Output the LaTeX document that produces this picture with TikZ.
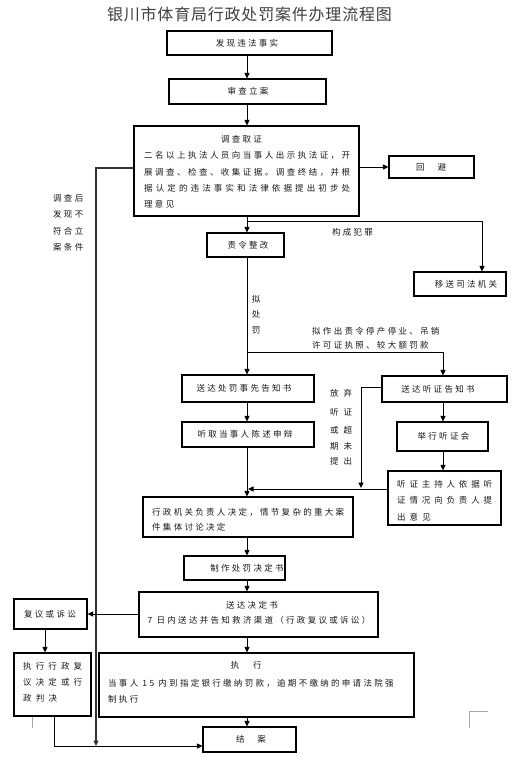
\documentclass[tikz,border=0pt]{standalone}
\usepackage{fontspec}
\setmainfont{Noto Sans CJK SC}
\newfontfamily\cjk[LetterSpace=27]{Noto Sans CJK SC}
\newfontfamily\cjkt[LetterSpace=5]{Noto Sans CJK SC}
\usetikzlibrary{arrows.meta}
\makeatletter
\newcommand\sprd[2]{\hbox to #1{\@tfor\cc:=#2\do{\cc\hfil}\unskip}}
\makeatother
\tikzset{
  box/.style={draw, line width=1.1pt, inner sep=0pt},
  lbl/.style={inner sep=0pt, text=black!90, font=\cjk\fontsize{8.5}{11}\selectfont},
  lbw/.style={lbl, anchor=west},
  conn/.style={line width=0.9pt},
  arr/.style={conn, -{Triangle[length=5.5pt,width=5pt]}},
  cropmark/.style={draw=black!35, line width=0.8pt},
}
\begin{document}
\begin{tikzpicture}[x=1pt,y=-1pt]
\fill[white] (0,0) rectangle (527,758);
\useasboundingbox (0,0) rectangle (527,758);

% crop marks
\draw[cropmark] (469,728) -- (469,711) -- (488,711);
\draw[cropmark] (32,716) -- (32,728);

% title
\node[lbl, text=black!75, font=\cjkt\fontsize{16}{18}\selectfont] (title) at (249.5,14) {银川市体育局行政处罚案件办理流程图};

% boxes
\node[box, minimum width=165pt, minimum height=24pt] (b1) at (249.5,43) {};
\node[box, minimum width=157pt, minimum height=25pt] (b2) at (247.5,91.5) {};
\node[box, minimum width=225pt, minimum height=90pt] (b3) at (246.5,171) {};
\node[box, minimum width=85pt, minimum height=22pt] (b4) at (431.5,167) {};
\node[box, minimum width=77pt, minimum height=24pt] (b5) at (245.5,245) {};
\node[box, minimum width=92pt, minimum height=24pt] (b6) at (460,284) {};
\node[box, minimum width=132pt, minimum height=27pt] (b7) at (248,388.5) {};
\node[box, minimum width=132pt, minimum height=25pt] (b8) at (248,434.5) {};
\node[box, minimum width=125pt, minimum height=26pt] (b9) at (444.5,389) {};
\node[box, minimum width=91pt, minimum height=29pt] (b10) at (442.5,436.5) {};
\node[box, minimum width=113pt, minimum height=54pt] (b11) at (444.5,498) {};
\node[box, minimum width=210pt, minimum height=40pt] (b12) at (248,517) {};
\node[box, minimum width=101pt, minimum height=24pt] (b13) at (234.5,568) {};
\node[box, minimum width=239pt, minimum height=45pt] (b14) at (258.5,614.5) {};
\node[box, minimum width=73pt, minimum height=30pt] (b15) at (50.5,614) {};
\node[box, minimum width=77pt, minimum height=63pt] (b16) at (52.5,684.5) {};
\node[box, minimum width=315pt, minimum height=64pt] (b17) at (256.5,685) {};
\node[box, minimum width=93pt, minimum height=25pt] (b18) at (249.5,739.5) {};

% box texts
\node[lbl] (t1) at (247,43) {发现违法事实};
\node[lbl] (t2) at (248,91.5) {审查立案};
\node[lbl] (t3h) at (241.5,139) {调查取证};
\node[lbw] (t3a) at (144,155) {\sprd{206pt}{二名以上执法人员向当事人出示执法证，开}};
\node[lbw] (t3b) at (144,172) {\sprd{206pt}{展调查、检查、收集证据。调查终结，并根}};
\node[lbw] (t3c) at (144,188.5) {\sprd{206pt}{据认定的违法事实和法律依据提出初步处}};
\node[lbw] (t3d) at (144,204) {理意见};
\node[lbl] (t4) at (431,167) {{\rmfamily 回\kern13pt 避}};
\node[lbl] (t5) at (248,245) {责令整改};
\node[lbl] (t6) at (466,284) {移送司法机关};
\node[lbl] (t7) at (244,388.5) {送达处罚事先告知书};
\node[lbl] (t8) at (245,434.5) {听取当事人陈述申辩};
\node[lbl] (t9) at (438,389) {送达听证告知书};
\node[lbl] (t10) at (443.5,436.5) {举行听证会};
\node[lbw] (t11a) at (397,484) {\sprd{95pt}{听证主持人依据听}};
\node[lbw] (t11b) at (397,500) {\sprd{95pt}{证情况向负责人提}};
\node[lbw] (t11c) at (397,517) {\sprd{33.6pt}{出意见}};
\node[lbw] (t12a) at (152,512) {行政机关负责人决定，情节复杂的重大案};
\node[lbw] (t12b) at (152,527) {件集体讨论决定};
\node[lbl] (t13) at (247,568) {制作处罚决定书};
\node[lbl] (t14a) at (252,605) {送达决定书};
\node[lbl] (t14b) at (259,620) {7 日内送达并告知救济渠道（行政复议或诉讼）};
\node[lbl] (t15) at (50,614) {复议或诉讼};
\node[lbw] (t16a) at (23,666) {\sprd{59pt}{执行行政复}};
\node[lbw] (t16b) at (23,682) {\sprd{59pt}{议决定或行}};
\node[lbw] (t16c) at (23,698) {\sprd{34pt}{政判决}};
\node[lbl] (t17a) at (246,665) {{\rmfamily 执\kern14pt 行}};
\node[lbw] (t17b) at (108,683) {当事人 15 内到指定银行缴纳罚款，逾期不缴纳的申请法院强};
\node[lbw] (t17c) at (108,699) {制执行};
\node[lbl] (t18) at (251,739.5) {{\rmfamily 结\kern13pt 案}};

% free labels
\node[lbw] (l1a) at (53,198) {调查后};
\node[lbw] (l1b) at (53,214) {发现不};
\node[lbw] (l1c) at (53,231) {符合立};
\node[lbw] (l1d) at (53,247) {案条件};
\node[lbl] (l2) at (352.5,232) {构成犯罪};
\node[lbl] (l3a) at (256,299) {拟};
\node[lbl] (l3b) at (256,314) {处};
\node[lbl] (l3c) at (256,330) {罚};
\node[lbw] (l4a) at (312,331) {拟作出责令停产停业、吊销};
\node[lbw] (l4b) at (312,345) {许可证执照、较大额罚款};
\node[lbl] (l5a) at (341,393) {\sprd{22pt}{放弃}};
\node[lbl] (l5b) at (341,412) {\sprd{22pt}{听证}};
\node[lbl] (l5c) at (341,430) {\sprd{22pt}{或超}};
\node[lbl] (l5d) at (341,446) {\sprd{22pt}{期未}};
\node[lbl] (l5e) at (341,461) {\sprd{22pt}{提出}};

% helper coordinates
\coordinate (ax) at (247,0);
\coordinate (x482) at (482,0);
\coordinate (x443) at (443,0);
\coordinate (x45) at (45,0);
\coordinate (x54) at (54,0);
\coordinate (j1) at (247,221);
\coordinate (j2) at (247,352);
\coordinate (j3) at (361,387);
\coordinate (j4) at (0,488);
\coordinate (j5) at (0,489);
\coordinate (lx) at (96,168);
\coordinate (bl) at (0,746);

% connectors
\draw[arr] (b1.south -| ax) -- (b2.north -| ax);
\draw[arr] (b2.south -| ax) -- (b3.north -| ax);
\draw[arr] (b3.east |- b4.west) -- (b4.west);
\draw[arr] (b3.south -| ax) -- (b5.north -| ax);
\draw[arr] (j1) -| (b6.north -| x482);
\draw[arr, draw=black!80, line width=1.1pt] (b3.west |- lx) -- (lx) -- (lx |- bl);
\draw[arr] (b5.south -| ax) -- (b7.north -| ax);
\draw[arr] (j2) -| (b9.north -| x443);
\draw[arr] (b7.south -| ax) -- (b8.north -| ax);
\draw[arr] (b8.south -| ax) -- (b12.north -| ax);
\draw[arr] (b9.south -| x443) -- (b10.north -| x443);
\draw[arr] (b10.south -| x443) -- (b11.north -| x443);
\draw[arr] (b9.west |- j3) -- (j3) -- (j3 |- j4);
\draw[arr] (b11.west |- j5) -- ([xshift=1pt]ax |- j5);
\draw[arr] (b12.south -| ax) -- (b13.north -| ax);
\draw[arr] (b13.south -| ax) -- (b14.north -| ax);
\draw[arr] (b14.west |- b15.east) -- (b15.east);
\draw[arr] (b15.south -| x45) -- (b16.north -| x45);
\draw[arr] (b14.south -| ax) -- (b17.north -| ax);
\draw[arr] (b17.south -| ax) -- (b18.north -| ax);
\draw[arr] (b16.south -| x54) -- (x54 |- bl) -- (b18.west |- bl);
\end{tikzpicture}
\end{document}
